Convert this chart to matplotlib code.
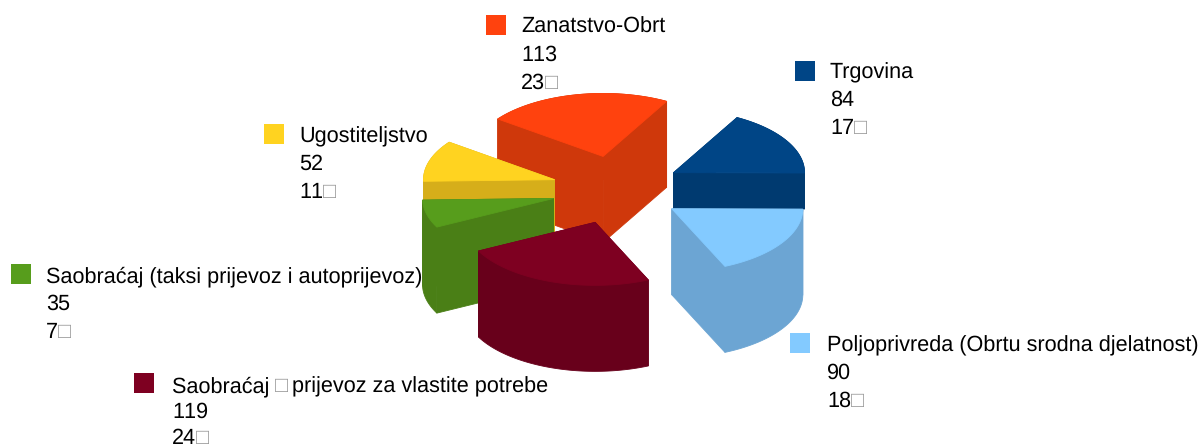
import numpy as np
import matplotlib
matplotlib.use("Agg")
import matplotlib.pyplot as plt
from matplotlib.patches import Polygon, Rectangle

plt.rcParams['font.family'] = ['Liberation Sans', 'DejaVu Sans']
plt.rcParams['text.kerning_factor'] = 12
plt.rcParams['text.hinting'] = 'no_hinting'

# Data
categories = ["Trgovina", "Poljoprivreda (Obrtu srodna djelatnost)",
              "Saobraćaj □prijevoz za vlastite potrebe",
              "Saobraćaj (taksi prijevoz i autoprijevoz)",
              "Ugostiteljstvo", "Zanatstvo-Obrt"]
values = [84, 90, 119, 35, 52, 113]
percents = ["17□", "18□", "24□", "7□", "11□", "23□"]

# Style
top_colors = ["#004586", "#83caff", "#7e0021", "#579d1c", "#ffd320", "#ff420e"]
side_colors = ["#003a70", "#6ca5d3", "#68001b", "#4a7f16", "#d6ae1a", "#cf380b"]
draw_order = [5, 0, 4, 3, 1, 2]
start_deg = 29.0
explode_x, explode_y = 0.5, 0.545
cx, cy = 617.0, 190.0
rx, ry, depth = 131.0, 63.0, 86.0
visible_depth = [36.0, depth, depth, depth, depth, depth]
box_xy = [(795, 61), (790, 333), (134, 373), (11, 264), (264, 124), (486, 15)]
text_x = [830, 827, 172, 46, 299, 521]
first_line_y = [71, 344, 385, 275, 135, 26]
line_gaps = [28, 28, 26, 28, 28, 28]
box_size = 20
font_pt = 15.6
tofu_color = "#9a9a9a"
tofu_pad = 3.5

fig = plt.figure(figsize=(11.98, 4.48), dpi=100)
ax = fig.add_axes([0, 0, 1, 1])
ax.set_xlim(0, 1198)
ax.set_ylim(448, 0)
ax.axis("off")

spans = np.array(values) / sum(values) * 360.0
starts = start_deg + np.concatenate([[0], np.cumsum(spans)[:-1]])


def ell(deg):
    t = np.radians(deg)
    return np.column_stack([rx * np.sin(t), -ry * np.cos(t)])


def face(points, color, z):
    ax.add_patch(Polygon(points, closed=True, facecolor=color, edgecolor=color,
                         linewidth=0.6, zorder=z))


for z, i in enumerate(draw_order):
    a, b = starts[i], starts[i] + spans[i]
    m = np.radians((a + b) / 2)
    apex = np.array([cx + explode_x * rx * np.sin(m), cy - explode_y * ry * np.cos(m)])
    arc = apex + ell(np.linspace(a, b, 80))
    down = np.array([0, visible_depth[i]])
    for corner in (arc[0], arc[-1]):
        face([apex, corner, corner + down, apex + down], side_colors[i], z)
    face(np.vstack([arc, (arc + down)[::-1]]), side_colors[i], z)
    face(np.vstack([apex, arc]), top_colors[i], z + 0.5)

renderer = fig.canvas.get_renderer()


def write_line(x, y, line):
    """Write a line left to right, with the box sign in grey."""
    parts = line.replace("□", "\0□\0").split("\0")
    for part in parts:
        if not part:
            continue
        is_box = part == "□"
        t = ax.text(x, y, part, fontsize=font_pt, color=tofu_color if is_box else "black",
                    va="baseline", ha="left", zorder=21)
        w, _, _ = renderer.get_text_width_height_descent(part, t.get_fontproperties(), False)
        x += w + (tofu_pad if is_box else 0)


for i, cat in enumerate(categories):
    ax.add_patch(Rectangle(box_xy[i], box_size, box_size, facecolor=top_colors[i],
                           edgecolor="none", zorder=20))
    for k, line in enumerate([cat, str(values[i]), percents[i]]):
        write_line(text_x[i], first_line_y[i] + k * line_gaps[i] + 7, line)

fig.savefig("out.png", dpi=100)
